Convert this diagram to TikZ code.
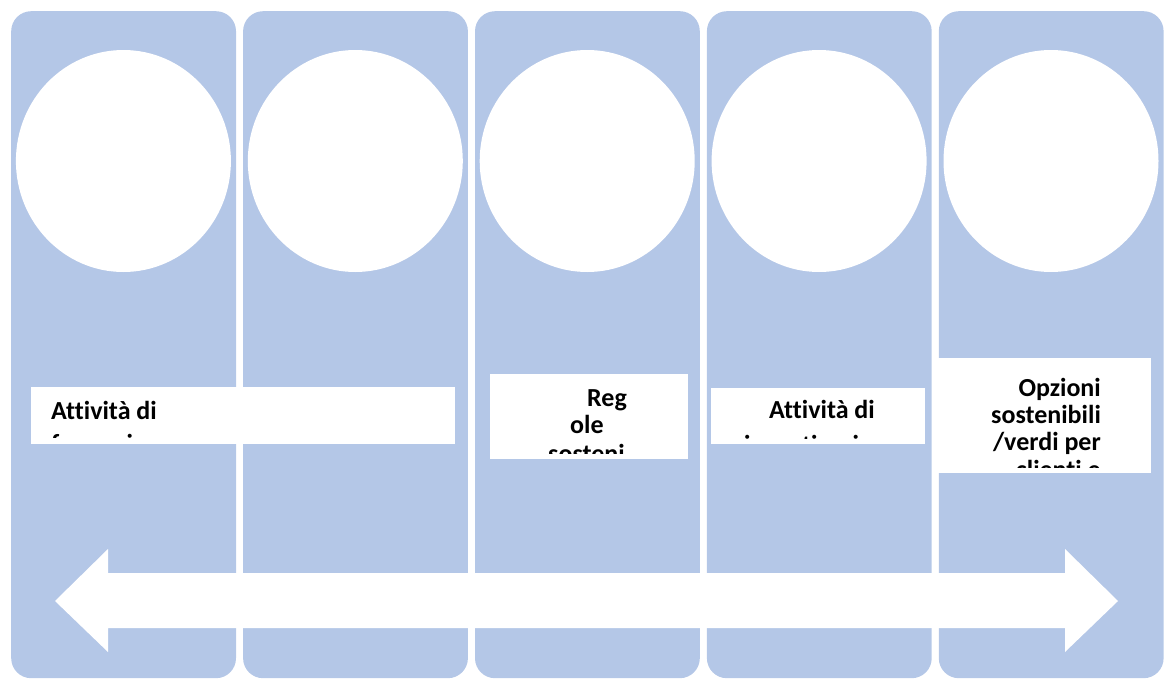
\documentclass[tikz,border=0pt]{standalone}
\usepackage{fontspec}
\setmainfont{Carlito}[Ligatures=NoCommon]
\usetikzlibrary{shapes.geometric}
\definecolor{panelblue}{RGB}{180,199,231}
\begin{document}
\begin{tikzpicture}[x=1pt,y=-1pt,
  panel/.style={fill=panelblue, draw=none, rounded corners=20pt, rectangle, inner sep=0pt,
    minimum width=224.8pt, minimum height=667pt, anchor=north west},
  disc/.style={fill=white, draw=none, ellipse, inner sep=0pt, minimum width=215pt, minimum height=222pt},
  tbox/.style={fill=white, draw=none, rectangle, inner sep=0pt, anchor=north west},
  lbl/.style={font=\bfseries\fontsize{26}{27}\selectfont, inner sep=0pt, text=black}]
\useasboundingbox (0,0) rectangle (1167,680);
% panels and circles
\foreach \i in {0,...,4}{
  \node[panel] (p\i) at ({11+231.9*\i},11) {};
  \node[disc] (c\i) at ({11+231.9*\i+112.4},161) {};
}
% text boxes
\node[tbox, minimum width=424pt, minimum height=57pt] (b1) at (31,387) {};
\node[tbox, minimum width=198pt, minimum height=85pt] (b2) at (490,374) {};
\node[tbox, minimum width=214pt, minimum height=56pt] (b3) at (711,388) {};
\node[tbox, minimum width=213pt, minimum height=115pt] (b4) at (938,358) {};
\begin{scope}
  \clip (31,387) rectangle (455,437);
  \node[lbl, anchor=base west] (t1a) at (51,419) {Attività di};
  \node[lbl, anchor=base west] (t1b) at (51,452) {formazione};
\end{scope}
\begin{scope}
  \clip (490,374) rectangle (688,453);
  \node[lbl, anchor=base west] (t2a) at (587,406) {Reg};
  \node[lbl, anchor=base west] (t2b) at (570,433) {ole};
  \node[lbl, anchor=base west] (t2c) at (548,462) {sosteni};
\end{scope}
\begin{scope}
  \clip (711,388) rectangle (925,438);
  \node[lbl, anchor=base] (t3a) at (822,418) {Attività di};
  \node[lbl, anchor=base] (t3b) at (822,453) {incentivazione};
\end{scope}
\begin{scope}
  \clip (938,358) rectangle (1151,467);
  \node[lbl, anchor=base east] (t4a) at (1101,396) {Opzioni};
  \node[lbl, anchor=base east] (t4b) at (1101,423) {sostenibili};
  \node[lbl, anchor=base east] (t4c) at (1101,450) {/verdi per};
  \node[lbl, anchor=base east] (t4d) at (1101,478) {clienti e};
\end{scope}
% double arrow
\fill[white] (55,601) -- (108,549) -- (108,573) -- (1065,573) -- (1065,549)
  -- (1118,601) -- (1065,652) -- (1065,628) -- (108,628) -- (108,652) -- cycle;
\end{tikzpicture}
\end{document}
